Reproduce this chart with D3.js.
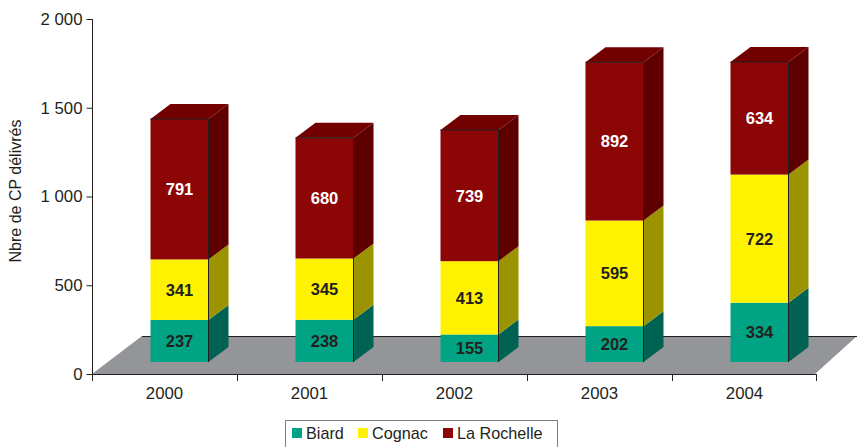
<!DOCTYPE html>
<html>
<head>
<meta charset="utf-8">
<script src="https://cdn.jsdelivr.net/npm/d3@7"></script>
<style>
  body { margin: 0; background: #fff; }
  svg { display: block; font-family: "Liberation Sans", Arial, sans-serif; }
</style>
</head>
<body>
<svg id="chart" width="857" height="447"></svg>
<script>
// data
var years = ["2000", "2001", "2002", "2003", "2004"];
var series = ["Biard", "Cognac", "La Rochelle"];
var biard = [237, 238, 155, 202, 334];
var cognac = [341, 345, 413, 595, 722];
var rochelle = [791, 680, 739, 892, 634];
var yTicks = [0, 500, 1000, 1500, 2000];

var front = { "Biard": "#00a383", "Cognac": "#fff200", "La Rochelle": "#8c0606" };
var side = { "Biard": "#006253", "Cognac": "#9b9300", "La Rochelle": "#5e0000" };
var topc = { "Biard": "#00806a", "Cognac": "#cfc400", "La Rochelle": "#730000" };
var labelc = { "Biard": "#231f20", "Cognac": "#231f20", "La Rochelle": "#ffffff" };

var svg = d3.select("#chart");
var FONT = "Liberation Sans, Arial, sans-serif";

var x0 = 92, x1 = 817, base = 374;
var floorDx = 50, floorDy = 38;   // floor depth
var offDx = 16, offDy = 12;       // bar placed mid-floor
var depDx = 20, depDy = 15;       // bar depth
var barW = 58;

var x = d3.scaleBand().domain(years).range([x0, x1]);
var y = d3.scaleLinear().domain([0, 2000]).range([base, 19]);

var fmt = function(d) { return d3.format(",")(d).replace(/,/g, " "); };

//// FLOOR //////////////////////////////////////////////////////////////////////

svg.append("polygon")
    .attr("points", [[x0, base], [x0 + floorDx, base - floorDy], [x1 + floorDx - 10, base - floorDy], [x1 - 2, base]].join(" "))
    .attr("fill", "#939598");

svg.append("line")
    .attr("x1", x0 + floorDx).attr("x2", x1 + floorDx)
    .attr("y1", base - floorDy + 0.5).attr("y2", base - floorDy + 0.5)
    .attr("stroke", "#231f20").attr("stroke-width", 1);

//// AXES ///////////////////////////////////////////////////////////////////////

var yAxis = d3.axisLeft(y).tickValues(yTicks).tickSize(6).tickFormat(fmt);
var gy = svg.append("g").attr("transform", "translate(" + (x0 + 0.5) + ",0)").call(yAxis);
gy.attr("font-family", FONT).attr("font-size", 16.8);
gy.select(".domain").attr("d", "M0," + (y(2000)) + "V" + (base + 7));
gy.selectAll("line").attr("stroke", "#231f20");
gy.select(".domain").attr("stroke", "#231f20");
gy.selectAll("text").attr("fill", "#231f20").attr("x", -10);

var xAxis = d3.axisBottom(x).tickSize(0).tickPadding(13);
var gx = svg.append("g").attr("transform", "translate(0," + (base + 0.5) + ")").call(xAxis);
gx.attr("font-family", FONT).attr("font-size", 16.8);
gx.select(".domain").attr("d", "M" + x0 + ",0H" + x1).attr("stroke", "#231f20");
gx.selectAll("text").attr("fill", "#231f20");

// boundary ticks between categories
svg.append("g").selectAll("line")
    .data(years.slice(1).concat(["end"]))
  .enter().append("line")
    .attr("x1", function(d) { return d === "end" ? x1 - 0.5 : Math.round(x(d)) + 0.5; })
    .attr("x2", function(d) { return d === "end" ? x1 - 0.5 : Math.round(x(d)) + 0.5; })
    .attr("y1", base).attr("y2", base + 7)
    .attr("stroke", "#231f20");

svg.append("text")
    .attr("transform", "translate(21,191) rotate(-90)")
    .attr("text-anchor", "middle")
    .attr("font-size", 16)
    .attr("fill", "#231f20")
    .text("Nbre de CP délivrés");

//// BARS ///////////////////////////////////////////////////////////////////////

var stackData = years.map(function(yr, i) {
  return { year: yr, "Biard": biard[i], "Cognac": cognac[i], "La Rochelle": rochelle[i] };
});
var stacked = d3.stack().keys(series)(stackData);

years.forEach(function(yr, i) {
  var g = svg.append("g");
  var bx = x(yr) + (x.bandwidth() - barW) / 2 + offDx - 1;
  stacked.forEach(function(layer, li) {
    var key = layer.key;
    var yb = y(layer[i][0]) - offDy;
    var yt = y(layer[i][1]) - offDy;
    g.append("rect")
        .attr("x", bx).attr("y", yt)
        .attr("width", barW).attr("height", yb - yt)
        .attr("fill", front[key]);
    g.append("polygon")
        .attr("points", [[bx + barW, yt], [bx + barW + depDx, yt - depDy], [bx + barW + depDx, yb - depDy], [bx + barW, yb]].join(" "))
        .attr("fill", side[key]);
    if (li === series.length - 1) {
      g.append("polygon")
          .attr("points", [[bx, yt], [bx + depDx, yt - depDy], [bx + barW + depDx, yt - depDy], [bx + barW, yt]].join(" "))
          .attr("fill", topc[key]);
      g.append("line")
          .attr("x1", bx).attr("x2", bx + barW)
          .attr("y1", yt).attr("y2", yt)
          .attr("stroke", "#231f20").attr("stroke-width", 1);
      g.append("line")
          .attr("x1", bx + barW).attr("x2", bx + barW)
          .attr("y1", yt).attr("y2", y(0) - offDy)
          .attr("stroke", "#231f20").attr("stroke-width", 1);
    }
    g.append("text")
        .attr("x", bx + barW / 2)
        .attr("y", (yt + yb) / 2)
        .attr("dy", "0.36em")
        .attr("text-anchor", "middle")
        .attr("font-size", 16.5)
        .attr("font-weight", "bold")
        .attr("fill", labelc[key])
        .text(layer[i].data[key]);
  });
});

//// LEGEND /////////////////////////////////////////////////////////////////////

var legend = svg.append("g");
legend.append("rect")
    .attr("x", 285.5).attr("y", 420.5)
    .attr("width", 272).attr("height", 40)
    .attr("fill", "#fff").attr("stroke", "#808080");

var legX = [292, 358, 443];
series.forEach(function(s, i) {
  legend.append("rect")
      .attr("x", legX[i]).attr("y", 428)
      .attr("width", 10).attr("height", 10)
      .attr("fill", front[s]);
  legend.append("text")
      .attr("x", legX[i] + 14).attr("y", 439)
      .attr("font-size", 16.2)
      .attr("fill", "#231f20")
      .text(s);
});
</script>
</body>
</html>
